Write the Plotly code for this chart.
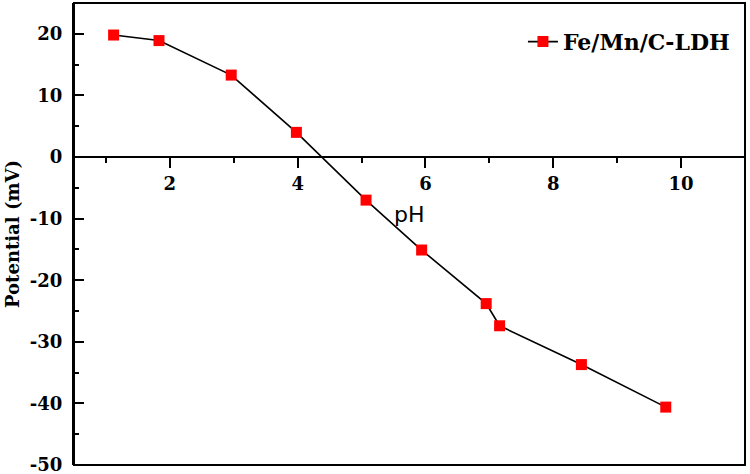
import plotly.graph_objects as go

ph = [1.12, 1.83, 2.96, 3.98, 5.07, 5.94, 6.95, 7.16, 8.44, 9.76]
potential = [19.8, 18.9, 13.3, 4.0, -7.0, -15.1, -23.8, -27.4, -33.7, -40.6]
series_name = "Fe/Mn/C-LDH"
x_tick_vals = [2, 4, 6, 8, 10]
x_tick_text = ["2", "4", "6", "8", "10"]
y_tick_vals = [-50, -40, -30, -20, -10, 0, 10, 20]
y_tick_text = ["-50", "-40", "-30", "-20", "-10", "0", "10", "20"]

serif = "DejaVu Serif"
fig = go.Figure()
fig.add_trace(go.Scatter(
    x=ph, y=potential, mode="lines+markers", name=series_name,
    line=dict(color="black", width=1.6),
    marker=dict(symbol="square", size=11, color="#ff0000", line=dict(width=0)),
))

fig.update_layout(
    width=750, height=474,
    margin=dict(l=74, r=5, t=3, b=9, autoexpand=False),
    plot_bgcolor="white", paper_bgcolor="white",
    showlegend=True,
    legend=dict(x=0.985, xanchor="right", y=0.916, yanchor="middle",
                font=dict(family=serif, size=22, color="black", weight="bold"),
                bgcolor="rgba(0,0,0,0)"),
    xaxis=dict(range=[0.5, 11], anchor="free", position=50/75, automargin=False,
               tickvals=x_tick_vals, ticktext=x_tick_text,
               ticks="outside", ticklen=10, tickwidth=2,
               tickcolor="black", showline=True, linecolor="black", linewidth=2,
               showgrid=False, zeroline=False,
               tickfont=dict(family=serif, size=18, color="black", weight="bold"),
               minor=dict(tickvals=[1, 3, 5, 7, 9], ticks="outside", ticklen=5,
                          tickwidth=2, tickcolor="black", showgrid=False)),
    yaxis=dict(range=[-50, 25], tickvals=y_tick_vals, ticktext=y_tick_text,
               automargin=False, ticklabeloverflow="allow",
               ticks="inside", ticklen=10,
               tickwidth=2, tickcolor="black", showline=True, linecolor="black",
               linewidth=2, showgrid=False, zeroline=False,
               ticklabelstandoff=6,
               tickfont=dict(family=serif, size=18, color="black", weight="bold"),
               title=dict(text="Potential (mV)", standoff=6,
                          font=dict(family=serif, size=18, color="black", weight="bold")),
               minor=dict(tickvals=[-45, -35, -25, -15, -5, 5, 15], ticks="inside",
                          ticklen=5, tickwidth=2, tickcolor="black", showgrid=False)),
    shapes=[dict(type="rect", xref="paper", yref="paper", x0=0, x1=1, y0=0, y1=1,
                 line=dict(color="black", width=2), layer="above")],
    annotations=[dict(text="pH", x=5.75, y=-9.4, xref="x", yref="y", showarrow=False,
                      font=dict(family="DejaVu Sans", size=22, color="black"))],
)

fig.write_html("out.html", config={"displayModeBar": False},
               post_script="document.body.style.margin='0';")
